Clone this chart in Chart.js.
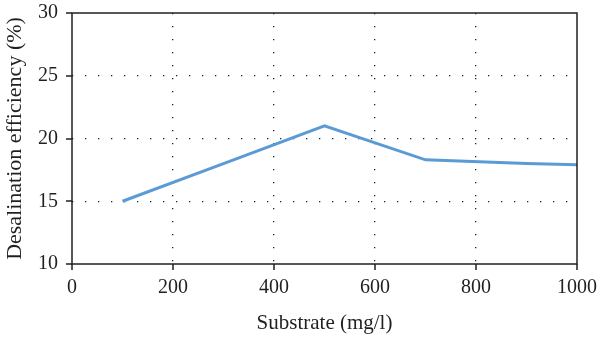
<!DOCTYPE html>
<html>
<head>
<meta charset="utf-8">
<script src="https://cdn.jsdelivr.net/npm/chart.js@4/dist/chart.umd.min.js"></script>
<style>
  html, body { margin: 0; padding: 0; background: #fff; }
  #wrap { width: 600px; height: 339px; }
</style>
</head>
<body>
<div id="wrap"><canvas id="c" width="600" height="339"></canvas></div>
<script>
// substrate concentration (mg/l) vs desalination efficiency (%)
var substrate = [100, 300, 500, 700, 900, 1000];
var efficiency = [15, 18, 21, 18.3, 18, 17.9];
var xTicks = [0, 200, 400, 600, 800, 1000];
var yTicks = [10, 15, 20, 25, 30];

var serif = '"Liberation Serif", "DejaVu Serif", serif';
var ink = '#231f20';

// box around the plot area plus the outward tick marks
var frame = {
    id: 'frame',
    afterDraw: function(chart){
        var a = chart.chartArea, ctx = chart.ctx
        var xs = chart.scales.x, ys = chart.scales.y
        ctx.save()
        ctx.strokeStyle = ink
        ctx.lineWidth = 1.5
        ctx.strokeRect(a.left, a.top, a.right - a.left, a.bottom - a.top)
        ctx.beginPath()
        xTicks.forEach(function(v){
            var px = Math.round(xs.getPixelForValue(v))
            ctx.moveTo(px, a.bottom); ctx.lineTo(px, a.bottom + 6)
        })
        yTicks.forEach(function(v){
            var py = Math.round(ys.getPixelForValue(v))
            ctx.moveTo(a.left, py); ctx.lineTo(a.left - 6, py)
        })
        ctx.stroke()
        ctx.restore()
    }
}

var points = substrate.map(function(x, i){ return {x: x, y: efficiency[i]} })

// no dotted line where the frame already is
function gridColor(ctx){
    var t = ctx.tick
    if(!t) return 'rgba(0,0,0,0)'
    var s = ctx.scale
    if(t.value === s.min || t.value === s.max) return 'rgba(0,0,0,0)'
    return '#1e1e1e'
}

new Chart(document.getElementById('c'), {
    type: 'line',
    data: {
        datasets: [{
            data: points,
            borderColor: '#5b9bd5',
            borderWidth: 3,
            pointRadius: 0,
            tension: 0
        }]
    },
    options: {
        responsive: false,
        animation: false,
        layout: { padding: { top: 0, right: 23, left: 0, bottom: 0 } },
        plugins: {
            legend: { display: false },
            tooltip: { enabled: false }
        },
        scales: {
            x: {
                type: 'linear',
                min: 0, max: 1000,
                afterBuildTicks: function(s){ s.ticks = xTicks.map(function(v){ return {value: v} }) },
                afterFit: function(s){ s.height = 75; s.paddingRight = 0; s.paddingLeft = 0 },
                ticks: { font: { family: serif, size: 20 }, color: ink, padding: 6, maxRotation: 0,
                         callback: function(v){ return String(v) } },
                grid: { color: gridColor, lineWidth: 1.3, tickLength: 6, tickColor: 'rgba(0,0,0,0)' },
                border: { display: false, dash: [1.3, 11.7] },
                title: { display: true, text: 'Substrate (mg/l)', font: { family: serif, size: 21 }, color: ink, padding: { top: 4, bottom: 3 } }
            },
            y: {
                min: 10, max: 30,
                afterBuildTicks: function(s){ s.ticks = yTicks.map(function(v){ return {value: v} }) },
                afterFit: function(s){ s.width = 72; s.paddingTop = 13 },
                ticks: { font: { family: serif, size: 20 }, color: ink, padding: 8,
                         callback: function(v){ return String(v) } },
                grid: { color: gridColor, lineWidth: 1.3, tickLength: 6, tickColor: 'rgba(0,0,0,0)' },
                border: { display: false, dash: [1.3, 11.7] },
                title: { display: true, text: 'Desalination efficiency (%)', font: { family: serif, size: 22 }, color: ink, padding: { top: 2, bottom: 0 } }
            }
        }
    },
    plugins: [frame]
})
</script>
</body>
</html>
